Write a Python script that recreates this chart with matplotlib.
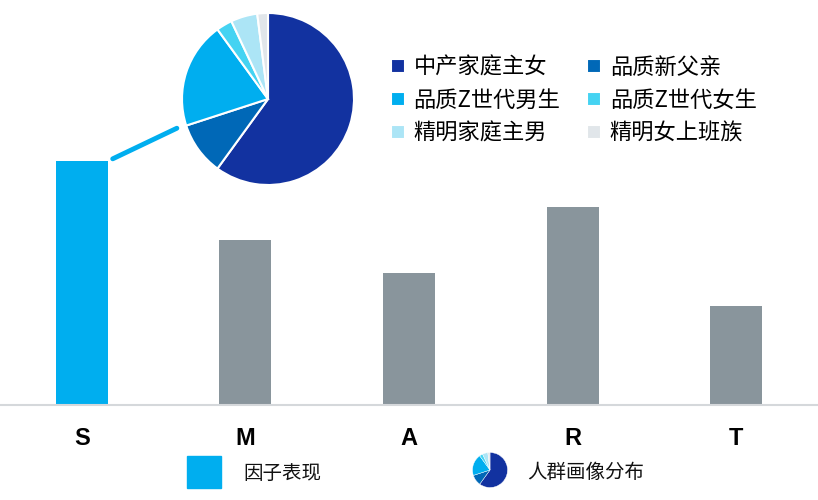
import numpy as np
import matplotlib
matplotlib.use('Agg')
import matplotlib.pyplot as plt
from matplotlib.patches import Rectangle, ConnectionPatch

plt.rcParams['font.family'] = ['Noto Sans CJK SC', 'DejaVu Sans']

# bar data
categories = ['S', 'M', 'A', 'R', 'T']
scores = [7.4, 5.0, 4.0, 6.0, 3.0]

# pie data (share of S)
groups = ['中产家庭主女', '品质新父亲', '品质Z世代男生', '品质Z世代女生', '精明家庭主男', '精明女上班族']
shares = [60, 10, 20, 3, 5, 2]
pie_colors = ['#1232A0', '#0068B7', '#00AEEF', '#45D3F2', '#ACE5F6', '#E1E6EA']

bar_hl = '#00AEEF'
bar_grey = '#89959C'

fig = plt.figure(figsize=(8.18, 5.0), dpi=100)

#====================================================
#    bars
ax = fig.add_axes([0, 95 / 500, 1, 405 / 500])
x = np.arange(len(categories))
bar_colors = [bar_hl] + [bar_grey] * (len(categories) - 1)
width = 0.318
ax.bar(x, scores, width=width, color=bar_colors, zorder=2)
ax.set_xlim(-0.5, len(categories) - 0.5)
ax.set_ylim(0, 405 / 33)
for s in ['top', 'right', 'left']:
    ax.spines[s].set_visible(False)
ax.spines['bottom'].set_color('#D5D8DB')
ax.spines['bottom'].set_linewidth(1.5)
ax.set_yticks([])
ax.set_xticks(x)
ax.set_xticklabels(categories, fontsize=17, fontweight='bold', family='Liberation Sans')
ax.tick_params(axis='x', length=0, pad=16)

#====================================================
#    pie inset
r = 86
pax = fig.add_axes([(268 - r) / 818, (500 - 99 - r) / 500, 2 * r / 818, 2 * r / 500])
wedges, _ = pax.pie(shares, colors=pie_colors, startangle=90, counterclock=False,
                    radius=1, wedgeprops=dict(edgecolor='white', linewidth=1.5))
pax.set_xlim(-1, 1)
pax.set_ylim(-1, 1)
pax.set_aspect('auto')
pax.axis('off')

# connector from S bar to pie
con = ConnectionPatch(xyA=(width / 2 + 0.03, scores[0] + 0.06), coordsA=ax.transData,
                      xyB=(-1.06, -0.34), coordsB=pax.transData,
                      color=bar_hl, linewidth=3.5)
fig.add_artist(con)

# legend filled row by row
order = [0, 2, 4, 1, 3, 5]
fig.legend([wedges[i] for i in order], [groups[i] for i in order], ncol=2, loc='upper left',
           bbox_to_anchor=(382 / 818, 1 - 47 / 500), frameon=False,
           fontsize=16, handlelength=0.62, handleheight=0.62, handletextpad=0.4,
           columnspacing=1.2, labelspacing=0.45, borderaxespad=0)

#====================================================
#    bottom legend
fig.add_artist(Rectangle((187 / 818, 1 - 488 / 500), 34 / 818, 32 / 500,
                         transform=fig.transFigure, color=bar_hl))
fig.text(243 / 818, 1 - 473 / 500, '因子表现', fontsize=14, va='center', ha='left', color='#111111')

mr = 17.5
max_ = fig.add_axes([(490 - mr) / 818, (500 - 470 - mr) / 500, 2 * mr / 818, 2 * mr / 500])
max_.pie(shares, colors=pie_colors, startangle=90, counterclock=False, radius=1,
         wedgeprops=dict(edgecolor='white', linewidth=0.3))
max_.set_xlim(-1, 1)
max_.set_ylim(-1, 1)
max_.set_aspect('auto')
max_.axis('off')
fig.text(527 / 818, 1 - 473 / 500, '人群画像分布', fontsize=14, va='center', ha='left', color='#111111')

fig.savefig('out.png', dpi=100)
